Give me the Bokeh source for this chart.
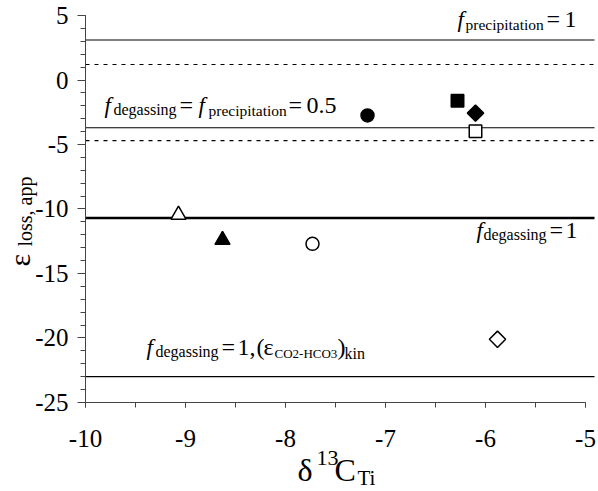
import math
from bokeh.plotting import figure
from bokeh.models import Label, SingleIntervalTicker, Range1d, ColumnDataSource
from bokeh.embed import file_html
from bokeh.resources import INLINE

# ---- data ----
x_vals = [-7.18, -6.28, -6.10, -6.10, -9.07, -8.63, -7.73, -5.88]
y_vals = [-2.75, -1.60, -2.57, -3.97, -10.45, -12.40, -12.70, -20.10]
shapes = ["circle", "square", "diamond", "square", "triangle", "triangle", "circle", "diamond"]
filled = [True, True, True, False, False, True, False, False]

solid_levels = [3.1, -3.7, -23.0]
dotted_levels = [1.2, -4.7]
thick_levels = [-10.7]

x_ticks = [-10, -9, -8, -7, -6, -5]
y_ticks = [-25, -20, -15, -10, -5, 0, 5]

x_start, x_end = -10, -5
y_start, y_end = -25, 5
line_end = -4.91

FONT = "Liberation Serif"
BASE_FIX = 0.35  # empirical shift so that the alphabetic baseline lands where intended

# marker styling derived from shape names
size_map = {"circle": 13, "square": 12.5, "diamond": 11.5, "triangle": 15}
src = ColumnDataSource(dict(
    x=x_vals,
    y=y_vals,
    marker=["square" if s == "diamond" else s for s in shapes],
    angle=[math.pi / 4 if s == "diamond" else 0.0 for s in shapes],
    size=[size_map[s] for s in shapes],
    fill=["black" if f else "white" for f in filled],
))

# the frame covers the whole canvas; axes are pinned at x=-10 and y=-25
p = figure(width=598, height=491,
           x_range=Range1d(-10.85, -4.87), y_range=Range1d(-31.9, 6.163),
           output_backend="svg", toolbar_location=None, min_border=0)
p.outline_line_color = None
p.grid.visible = False
p.background_fill_color = "white"
p.border_fill_color = "white"

# axes
p.xaxis.ticker = SingleIntervalTicker(interval=1, num_minor_ticks=2)
p.yaxis.ticker = SingleIntervalTicker(interval=5, num_minor_ticks=5)
p.xaxis.bounds = (x_start, x_end)
p.yaxis.bounds = (y_start, y_end)
p.xaxis.fixed_location = y_start
p.yaxis.fixed_location = x_start
p.xaxis.major_label_overrides = {t: str(t) for t in x_ticks}
p.yaxis.major_label_overrides = {t: str(t) for t in y_ticks}
for ax in (p.xaxis, p.yaxis):
    ax.axis_line_color = "#444444"
    ax.major_tick_line_color = "#444444"
    ax.minor_tick_line_color = "#444444"
    ax.major_tick_in = 0
    ax.minor_tick_in = 0
    ax.major_label_text_font = FONT
    ax.major_label_text_font_size = "25px"
    ax.major_label_text_color = "black"
p.xaxis.major_tick_out = 5
p.xaxis.minor_tick_out = 5
p.xaxis.major_label_standoff = 23
p.yaxis.major_tick_out = 8
p.yaxis.minor_tick_out = 5
p.yaxis.major_label_standoff = 9


def hlines(levels, **kw):
    n = len(levels)
    p.segment(x0=[x_start] * n, x1=[line_end] * n, y0=levels, y1=levels,
              line_color="black", **kw)


hlines(solid_levels, line_width=1.2)
hlines(dotted_levels, line_width=1.2, line_dash="4 5")
hlines(thick_levels, line_width=2.6)

# points
p.scatter(x="x", y="y", marker="marker", size="size", angle="angle",
          fill_color="fill", line_color="black", line_width=1.5, source=src)


def compose(x, y, pieces, vertical=False):
    """pieces: (text, size px, style, offset along baseline, offset across (up +))"""
    for txt, size, style, along, across in pieces:
        lift = across + BASE_FIX * size
        if vertical:
            xo, yo, ang = -lift, along, math.pi / 2
        else:
            xo, yo, ang = along, lift, 0.0
        p.add_layout(Label(x=x, y=y, x_offset=xo, y_offset=yo, text=txt,
                           text_font=FONT, text_font_size=f"{size}px",
                           text_font_style=style, text_color="black",
                           text_baseline="alphabetic", text_align="left",
                           angle=ang))


compose(-6.31, 4.07, [
    ("f", 23, "italic", 3, 0),
    ("precipitation", 15.5, "normal", 11, -2),
    ("=", 24, "normal", 92, 0),
    ("1", 24, "normal", 110, 0),
])
compose(-9.84, -2.60, [
    ("f", 23, "italic", 3, 0),
    ("degassing", 16, "normal", 12, -2),
    ("=", 24, "normal", 78, 0),
    ("f", 23, "italic", 97, 0),
    ("precipitation", 15.5, "normal", 107, -2),
    ("=", 24, "normal", 187, 0),
    ("0.5", 24, "normal", 205, 0),
])
compose(-6.12, -12.29, [
    ("f", 23, "italic", 3, 0),
    ("degassing", 16, "normal", 10, -2),
    ("=", 24, "normal", 76, 0),
    ("1", 24, "normal", 92, 0),
])
compose(-9.42, -21.36, [
    ("f", 23, "italic", 3, 0),
    ("degassing", 16, "normal", 12, -2),
    ("=", 24, "normal", 78, 0),
    ("1,", 24, "normal", 94, 0),
    ("(", 24, "normal", 113, 0),
    ("ε", 24, "normal", 120, 0),
    ("CO2-HCO3", 13, "normal", 131, -3),
    (")", 24, "normal", 194, 0),
    ("kin", 16, "normal", 201, -4),
])

# axis titles
compose(-7.88, -31.10, [
    ("δ", 32, "normal", 0, 0),
    ("13", 22, "normal", 19, 15),
    ("C", 32, "normal", 37, 0),
    ("Ti", 21, "normal", 60, -4),
])
compose(-10.56, -14.46, [
    ("ε", 30, "normal", 0, 0),
    ("loss, app", 20, "normal", 20, -2),
], vertical=True)

open("out.html", "w").write(file_html(p, INLINE))
